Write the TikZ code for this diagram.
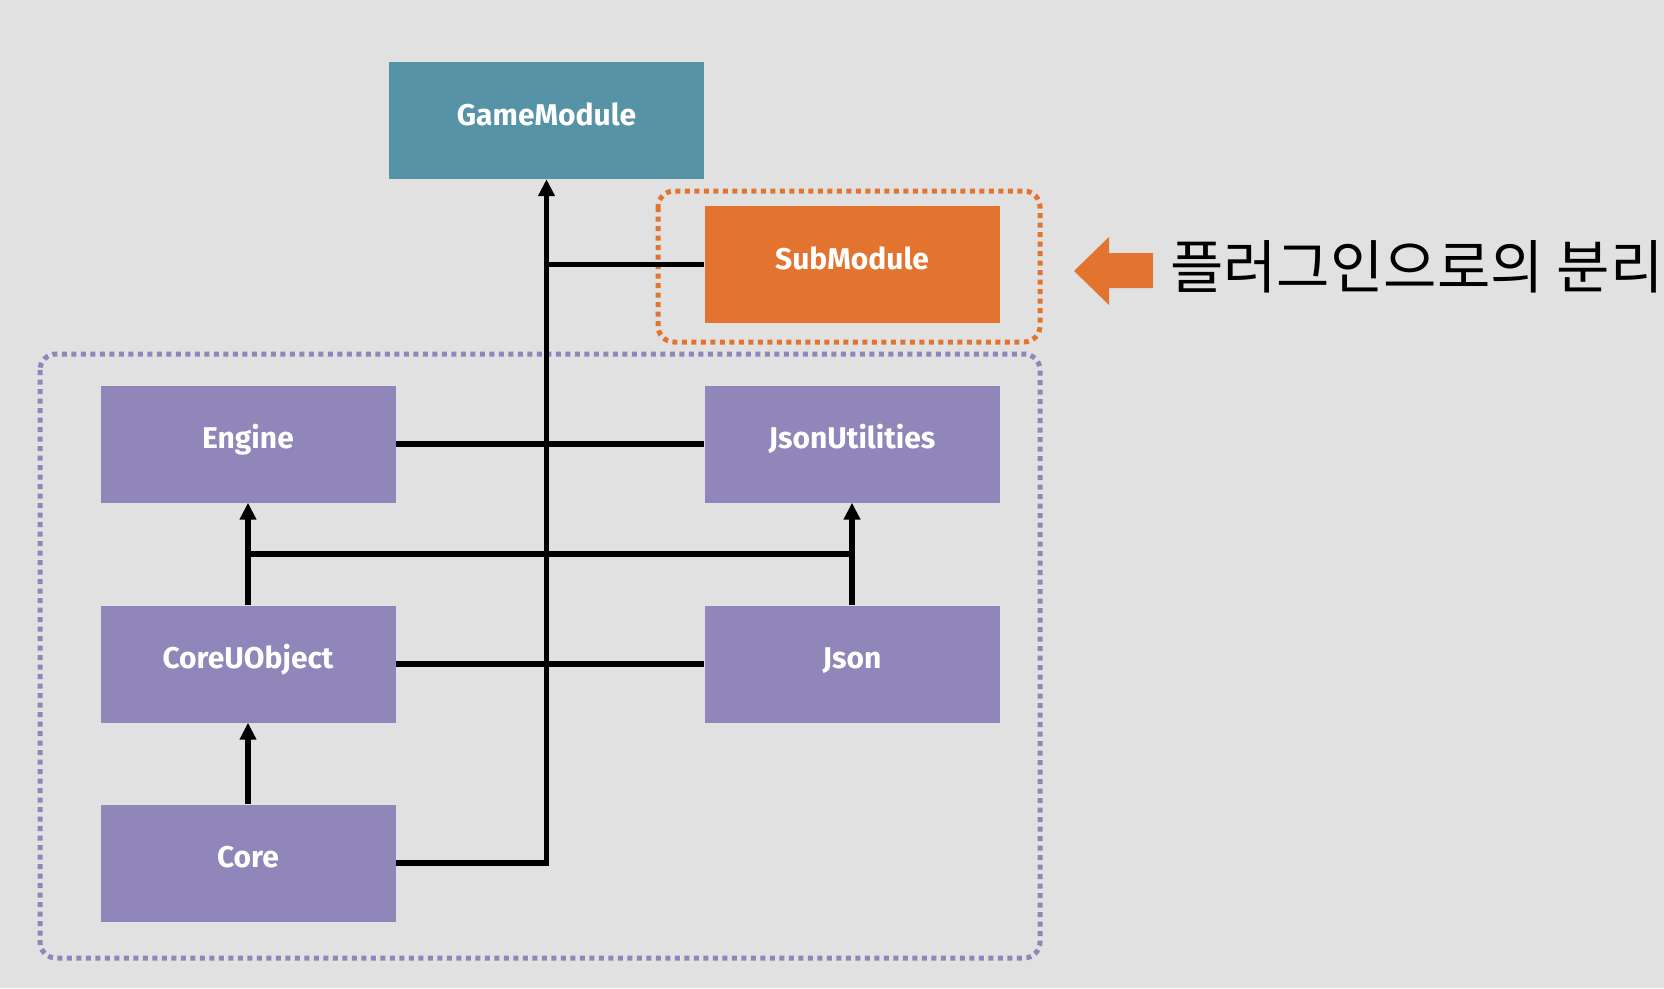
\documentclass[tikz,border=0pt]{standalone}
\usepackage{fontspec}
\setmainfont{Fira Sans}
\newfontfamily\kofont{Noto Sans CJK KR}
\usetikzlibrary{arrows.meta}
\definecolor{bgGray}{HTML}{E1E1E1}
\definecolor{modTeal}{HTML}{5793A6}
\definecolor{modOrange}{HTML}{E27430}
\definecolor{modPurple}{HTML}{9186BA}
\begin{document}
\begin{tikzpicture}[x=1pt,y=-1pt,
	mod/.style={rectangle, minimum width=295pt, minimum height=117pt, inner sep=0pt, text height=20pt, text depth=11pt, text=white, font=\fontsize{30}{32}\selectfont\bfseries},
	link/.style={line width=5.5pt, black},
	dep/.style={link, -{Triangle[length=17pt,width=16pt]}},
	grp/.style={line width=5pt, dash pattern=on 5pt off 4.5pt, rounded corners=16pt}]
	\fill[bgGray] (0,0) rectangle (1664,988);
	% modules
	\node (GM) at (546.5, 120.5)	[mod, fill = modTeal, minimum width=315pt]	{GameModule};
	\node (SM) at (852, 264.5)	[mod, fill = modOrange]	{SubModule};
	\node (EN) at (248, 444)	[mod, fill = modPurple]	{Engine};
	\node (JU) at (852, 444)	[mod, fill = modPurple]	{JsonUtilities};
	\node (CU) at (248, 664)	[mod, fill = modPurple]	{CoreUObject};
	\node (JS) at (852, 664)	[mod, fill = modPurple]	{Json};
	\node (CO) at (248, 863)	[mod, fill = modPurple]	{Core};
	% groups
	\draw[grp, modOrange] (658, 191) rectangle (1040, 342);
	\draw[grp, modPurple] (40, 354) rectangle (1040, 958);
	% links
	\coordinate (BR) at (248, 554);
	\draw[dep] (CO.east) -| (GM.south);
	\draw[link] (SM.west) -- (SM.west -| GM.south);
	\draw[link] (EN) -- (JU);
	\draw[link] (CU) -- (JS);
	\draw[dep] (CO) -- (CU);
	\draw[dep] (CU) -- (EN);
	\draw[dep] (JS) -- (JU);
	\draw[link] (BR) -- (BR -| JS.north);
	% note
	\fill[modOrange] (1074, 271) -- (1109, 237) -- (1109, 253) -- (1153, 253) -- (1153, 288) -- (1109, 288) -- (1109, 305) -- cycle;
	\node (NT) at (1170, 267)	[anchor=west, inner sep=0pt, font=\kofont\fontsize{58}{62}\selectfont]	{플러그인으로의 분리};
\end{tikzpicture}
\end{document}
